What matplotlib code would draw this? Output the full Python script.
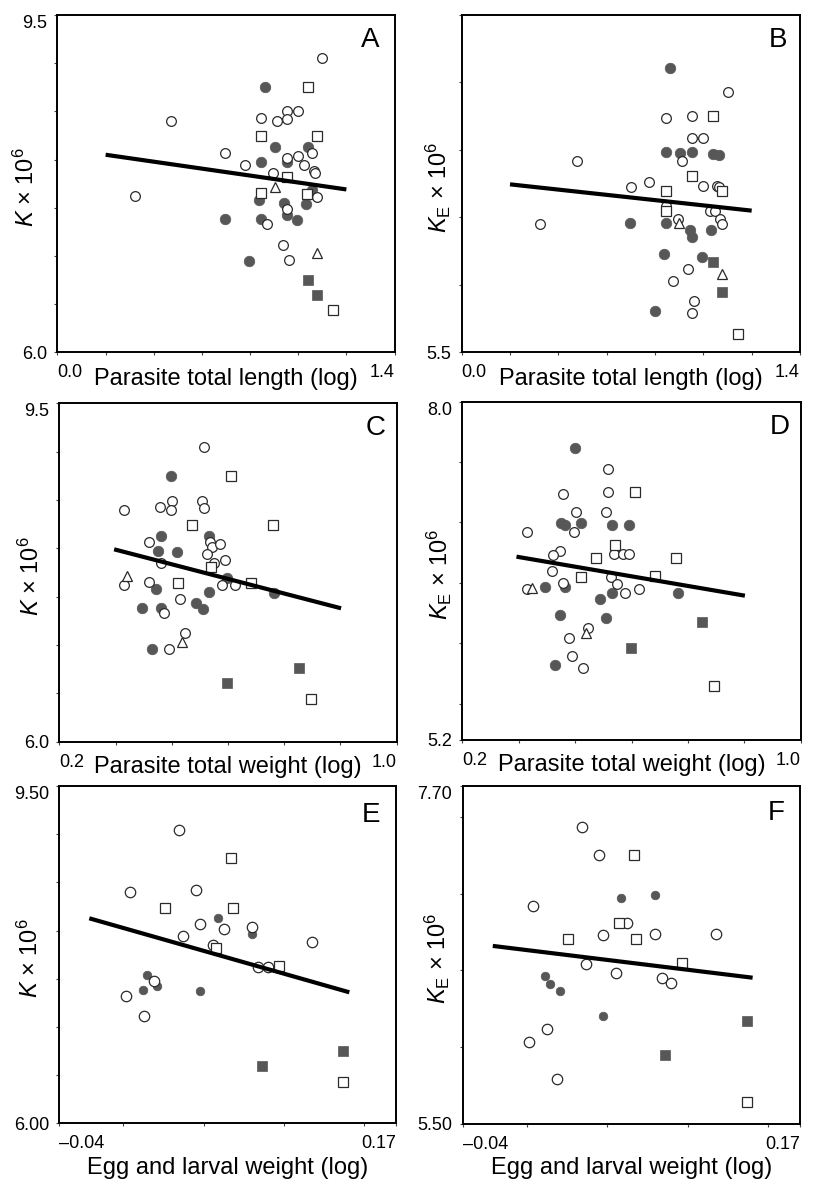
import matplotlib
matplotlib.use('Agg')
import matplotlib.pyplot as plt

plt.rcParams['font.family'] = ['Liberation Sans', 'DejaVu Sans']
plt.rcParams['mathtext.fontset'] = 'custom'
plt.rcParams['mathtext.rm'] = 'Liberation Sans'
plt.rcParams['mathtext.it'] = 'Liberation Sans:italic'

# ---- panel A : K vs parasite total length ----
a_open_circle = [(1.10, 9.05), (0.47, 8.40), (0.32, 7.62), (0.845, 8.43), (0.91, 8.40),
                 (0.953, 8.50), (0.953, 8.42), (0.998, 8.50), (0.697, 8.065), (0.953, 8.02),
                 (0.998, 8.04), (1.057, 8.065), (0.777, 7.94), (1.023, 7.94), (1.064, 7.885),
                 (1.07, 7.857), (0.896, 7.857), (1.08, 7.615), (0.953, 7.484), (0.872, 7.328),
                 (0.938, 7.114), (0.962, 6.958)]
a_filled_circle = [(0.863, 8.757), (0.902, 8.134), (1.04, 8.134), (0.845, 7.972), (0.953, 7.972),
                   (1.059, 7.685), (0.838, 7.581), (0.943, 7.546), (1.032, 7.539), (0.953, 7.425),
                   (0.697, 7.38), (0.845, 7.38), (0.994, 7.373), (0.796, 6.951)]
a_open_square = [(1.04, 8.75), (0.845, 8.245), (1.077, 8.245), (0.953, 7.816), (0.845, 7.65),
                 (1.036, 7.64), (1.144, 6.436)]
a_filled_square = [(1.04, 6.751), (1.077, 6.599)]
a_triangle = [(0.902, 7.719), (1.079, 7.034)]
a_fit_x = [0.2, 1.2]
a_fit_y = [8.05, 7.69]

# ---- panel B : KE vs parasite total length ----
b_open_circle = [(1.103, 7.432), (0.844, 7.234), (0.954, 7.249), (0.954, 7.086), (1.0, 7.086),
                 (0.476, 6.918), (0.913, 6.918), (0.699, 6.728), (0.777, 6.762), (0.954, 6.807),
                 (1.0, 6.733), (1.055, 6.733), (1.065, 6.723), (0.844, 6.585), (1.028, 6.545),
                 (1.048, 6.545), (0.897, 6.486), (1.069, 6.486), (1.079, 6.449), (0.324, 6.449),
                 (0.938, 6.118), (0.876, 6.029), (0.963, 5.883), (0.954, 5.789)]
b_filled_circle = [(0.862, 7.61), (0.844, 6.987), (0.903, 6.975), (0.954, 6.987), (1.039, 6.97),
                   (1.063, 6.965), (0.697, 6.461), (0.844, 6.461), (0.945, 6.407), (0.954, 6.357),
                   (1.032, 6.407), (0.839, 6.229), (0.996, 6.204), (0.8, 5.806)]
b_open_square = [(1.039, 7.251), (0.954, 6.807), (0.844, 6.698), (1.079, 6.698), (0.844, 6.55),
                 (1.145, 5.636)]
b_filled_square = [(1.039, 6.167), (1.079, 5.945)]
b_triangle = [(0.901, 6.461), (1.079, 6.078)]
b_fit_x = [0.2, 1.2]
b_fit_y = [6.745, 6.55]

# ---- panel C : K vs parasite total weight ----
c_open_circle = [(0.544, 9.045), (0.467, 8.493), (0.539, 8.493), (0.353, 8.397), (0.439, 8.424),
                 (0.464, 8.397), (0.544, 8.417), (0.413, 8.069), (0.557, 8.069), (0.561, 8.017),
                 (0.581, 8.041), (0.551, 7.941), (0.594, 7.879), (0.566, 7.852), (0.44, 7.845),
                 (0.412, 7.648), (0.353, 7.617), (0.585, 7.621), (0.617, 7.621), (0.486, 7.476),
                 (0.449, 7.328), (0.498, 7.121), (0.459, 6.959)]
c_filled_circle = [(0.465, 8.752), (0.441, 8.131), (0.554, 8.131), (0.435, 7.969), (0.479, 7.966),
                   (0.597, 7.693), (0.429, 7.576), (0.554, 7.545), (0.709, 7.534), (0.396, 7.379),
                   (0.441, 7.379), (0.525, 7.431), (0.54, 7.372), (0.42, 6.959)]
c_open_square = [(0.607, 8.745), (0.515, 8.238), (0.706, 8.238), (0.56, 7.81), (0.481, 7.641),
                 (0.655, 7.641), (0.796, 6.441)]
c_filled_square = [(0.769, 6.762), (0.598, 6.603)]
c_triangle = [(0.361, 7.714), (0.492, 7.034)]
c_fit_x = [0.33, 0.868]
c_fit_y = [7.99, 7.38]

# ---- panel D : KE vs parasite total weight ----
d_open_circle = [(0.544, 7.44), (0.438, 7.239), (0.544, 7.252), (0.468, 7.084), (0.54, 7.084),
                 (0.354, 6.924), (0.464, 6.924), (0.561, 6.814), (0.432, 6.767), (0.414, 6.731),
                 (0.559, 6.737), (0.581, 6.737), (0.595, 6.737), (0.411, 6.601), (0.551, 6.552),
                 (0.565, 6.491), (0.439, 6.499), (0.354, 6.452), (0.585, 6.419), (0.617, 6.452),
                 (0.498, 6.13), (0.451, 6.041), (0.459, 5.895), (0.486, 5.799)]
d_filled_circle = [(0.466, 7.614), (0.433, 6.993), (0.443, 6.977), (0.48, 6.993), (0.555, 6.977),
                   (0.595, 6.977), (0.395, 6.463), (0.443, 6.463), (0.525, 6.367), (0.555, 6.414),
                   (0.709, 6.414), (0.43, 6.234), (0.54, 6.207), (0.42, 5.818)]
d_open_square = [(0.608, 7.255), (0.561, 6.814), (0.516, 6.703), (0.704, 6.703), (0.48, 6.552),
                 (0.656, 6.56), (0.795, 5.647)]
d_filled_square = [(0.767, 6.177), (0.599, 5.959)]
d_triangle = [(0.364, 6.455), (0.492, 6.083)]
d_fit_x = [0.328, 0.868]
d_fit_y = [6.717, 6.394]

# ---- panel E : K vs egg and larval weight ----
e_open_circle = [(0.0349, 9.047), (0.0039, 8.4), (0.045, 8.417), (0.0477, 8.068), (0.0369, 7.944),
                 (0.0629, 8.013), (0.0804, 8.037), (0.0561, 7.854), (0.1178, 7.878), (0.0841, 7.619),
                 (0.0904, 7.626), (0.019, 7.48), (0.0016, 7.325), (0.0128, 7.117)]
e_filled_circle = [(0.0592, 8.127), (0.0804, 7.964), (0.0147, 7.536), (0.0209, 7.421),
                   (0.012, 7.38), (0.0477, 7.376)]
e_open_square = [(0.0669, 8.75), (0.0259, 8.238), (0.0681, 8.238), (0.0579, 7.816),
                 (0.0972, 7.636), (0.1371, 6.432)]
e_filled_square = [(0.1371, 6.754), (0.0862, 6.598)]
e_triangle = []
e_fit_x = [-0.0213, 0.1409]
e_fit_y = [8.127, 7.359]

# ---- panel F : KE vs egg and larval weight ----
f_open_circle = [(0.0345, 7.435), (0.0447, 7.249), (0.0036, 6.921), (0.0625, 6.81), (0.0476, 6.73),
                 (0.0797, 6.735), (0.1177, 6.735), (0.0368, 6.541), (0.0557, 6.485), (0.0839, 6.448),
                 (0.0899, 6.416), (0.0123, 6.121), (0.0015, 6.034), (0.0185, 5.793)]
f_filled_circle = [(0.0586, 6.973), (0.0797, 6.991), (0.0115, 6.463), (0.0146, 6.411),
                   (0.0206, 6.364), (0.0476, 6.205)]
f_open_square = [(0.0667, 7.251), (0.0575, 6.81), (0.0258, 6.702), (0.0677, 6.702),
                 (0.0967, 6.55), (0.1368, 5.641)]
f_filled_square = [(0.1368, 6.173), (0.0858, 5.949)]
f_triangle = []
f_fit_x = [-0.0213, 0.1405]
f_fit_y = [6.659, 6.452]

# axis ranges / tick positions / labels
len_xlim = (0.0, 1.4)
len_xticks = [0.0, 0.2, 0.4, 0.6, 0.8, 1.0, 1.2, 1.4]
wt_xlim = (0.2, 1.0)
wt_xticks = [0.2 + k * 0.8 / 6 for k in range(7)]
egg_xlim = (-0.04, 0.17)
egg_xticks = [-0.04, 0.0, 0.05, 0.10, 0.15, 0.17]

GREY = '#575757'
EDGE = '#2a2a2a'
LBL_K = r'$K$ × 10$^6$'
LBL_KE = r'$K_\mathrm{E}$ × 10$^6$'


def xy(pts):
    return [p[0] for p in pts], [p[1] for p in pts]


def panel(rect, data, xlim, xticks, xends, ylim, yticks, yends, xlabel, ylabel,
          letter, letter_pos, ylab_x, xlab_y, egg=False):
    ax = fig.add_axes(rect)
    oc, fc, os_, fs, tr, fx, fy = data
    if egg:
        sz = dict(oc=7.5, fc=6.2, os=6.6, fs=7.8, tr=6.5)
    else:
        sz = dict(oc=7.0, fc=7.6, os=6.7, fs=7.8, tr=6.5)
    x, y = xy(fc)
    ax.plot(x, y, 'o', ms=sz['fc'], mfc=GREY, mec=GREY, mew=0.5, ls='none', zorder=2)
    x, y = xy(fs)
    ax.plot(x, y, 's', ms=sz['fs'], mfc=GREY, mec=GREY, mew=0.5, ls='none', zorder=2)
    x, y = xy(oc)
    ax.plot(x, y, 'o', ms=sz['oc'], mfc='white', mec=EDGE, mew=0.9, ls='none', zorder=2)
    x, y = xy(os_)
    ax.plot(x, y, 's', ms=sz['os'], mfc='white', mec=EDGE, mew=0.9, ls='none', zorder=2)
    if tr:
        x, y = xy(tr)
        ax.plot(x, y, '^', ms=sz['tr'], mfc='white', mec=EDGE, mew=0.9, ls='none', zorder=2)
    ax.plot(fx, fy, color='black', lw=3.0, solid_capstyle='butt', zorder=3)

    ax.set_xlim(*xlim)
    ax.set_ylim(*ylim)
    ax.set_xticks(xticks)
    ax.set_xticklabels([xends[0]] + [''] * (len(xticks) - 2) + [xends[1]])
    ax.set_yticks(yticks)
    ax.set_yticklabels([yends[0]] + [''] * (len(yticks) - 2) + [yends[1]])
    ax.tick_params(direction='out', length=2.5, width=0.8, color='#444444',
                   labelsize=13, pad=5)
    ax.tick_params(axis='x', pad=6)
    xl = ax.get_xticklabels()
    xl[0].set_ha('left')
    xl[-1].set_ha('right')
    yl = ax.get_yticklabels()
    yl[-1].set_va('top')
    for s in ax.spines.values():
        s.set_linewidth(1.4)
        s.set_color('black')

    ax.set_xlabel(xlabel, fontsize=17)
    ax.xaxis.label.set_va('center')
    ax.xaxis.set_label_coords(0.5, xlab_y)
    ax.set_ylabel(ylabel, fontsize=17)
    ax.yaxis.label.set_va('center')
    ax.yaxis.set_label_coords(ylab_x, 0.49)
    ax.text(letter_pos[0], letter_pos[1], letter, transform=ax.transAxes,
            ha='center', va='center', fontsize=20)
    return ax


fig = plt.figure(figsize=(8.19, 11.83), dpi=100)

panel([0.0702, 0.7022, 0.4115, 0.2851],
      (a_open_circle, a_filled_circle, a_open_square, a_filled_square, a_triangle, a_fit_x, a_fit_y),
      len_xlim, len_xticks, ('0.0', '1.4'),
      (6.0, 9.5), [6.0, 6.5, 7.0, 7.5, 8.0, 8.5, 9.0, 9.5], ('6.0', '9.5'),
      'Parasite total length (log)', LBL_K, 'A', (0.928, 0.926), -0.094, -0.079)

panel([0.5637, 0.7022, 0.4131, 0.2851],
      (b_open_circle, b_filled_circle, b_open_square, b_filled_square, b_triangle, b_fit_x, b_fit_y),
      len_xlim, len_xticks, ('0.0', '1.4'),
      (5.5, 8.0), [5.5, 6.0, 6.5, 7.0, 7.5, 8.0], ('5.5', ''),
      'Parasite total length (log)', LBL_KE, 'B', (0.935, 0.926), -0.069, -0.079)

panel([0.0724, 0.3730, 0.4120, 0.2861],
      (c_open_circle, c_filled_circle, c_open_square, c_filled_square, c_triangle, c_fit_x, c_fit_y),
      wt_xlim, wt_xticks, ('0.2', '1.0'),
      (6.0, 9.5), [6.0, 6.5, 7.0, 7.5, 8.0, 8.5, 9.0, 9.5], ('6.0', '9.5'),
      'Parasite total weight (log)', LBL_K, 'C', (0.936, 0.927), -0.082, -0.076)

panel([0.5645, 0.3745, 0.4132, 0.2860],
      (d_open_circle, d_filled_circle, d_open_square, d_filled_square, d_triangle, d_fit_x, d_fit_y),
      wt_xlim, wt_xticks, ('0.2', '1.0'),
      (5.2, 8.0), [5.2, 5.5, 6.0, 6.5, 7.0, 7.5, 8.0], ('5.2', '8.0'),
      'Parasite total weight (log)', LBL_KE, 'D', (0.939, 0.926), -0.069, -0.074)

panel([0.0724, 0.0505, 0.4111, 0.2851],
      (e_open_circle, e_filled_circle, e_open_square, e_filled_square, e_triangle, e_fit_x, e_fit_y),
      egg_xlim, egg_xticks, ('\u20130.04', '0.17'),
      (6.0, 9.5), [6.0, 6.5, 7.0, 7.5, 8.0, 8.5, 9.0, 9.5], ('6.00', '9.50'),
      'Egg and larval weight (log)', LBL_K, 'E', (0.925, 0.914), -0.087, -0.1325, egg=True)

panel([0.5650, 0.0499, 0.4118, 0.2857],
      (f_open_circle, f_filled_circle, f_open_square, f_filled_square, f_triangle, f_fit_x, f_fit_y),
      egg_xlim, egg_xticks, ('\u20130.04', '0.17'),
      (5.5, 7.7), [5.5, 6.0, 6.5, 7.0, 7.5, 7.7], ('5.50', '7.70'),
      'Egg and larval weight (log)', LBL_KE, 'F', (0.928, 0.919), -0.075, -0.130, egg=True)

fig.savefig('out.png', dpi=100)
